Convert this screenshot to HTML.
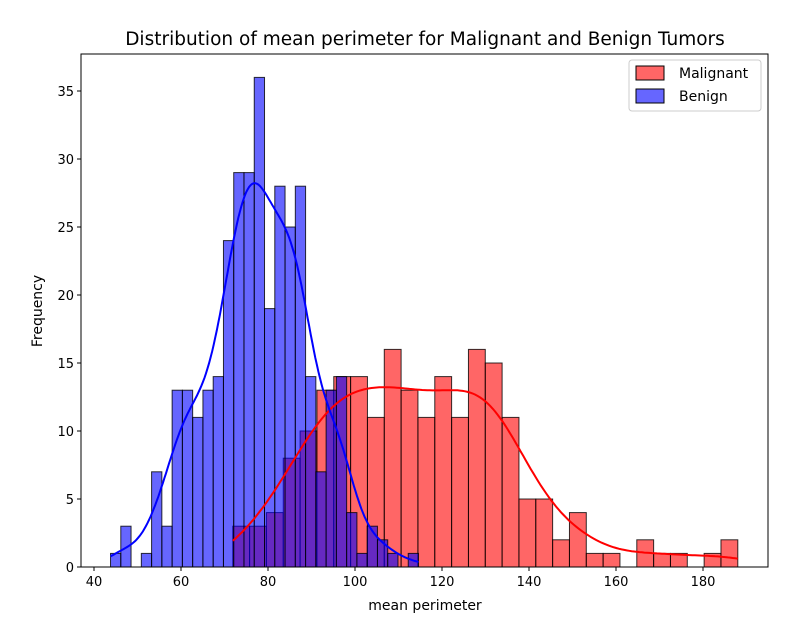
<!DOCTYPE html>
<html><head><meta charset="utf-8"><style>
body{margin:0;background:#fff;font-family:"DejaVu Sans",sans-serif}
</style></head><body>
<svg id="chart" width="808" height="630" xmlns="http://www.w3.org/2000/svg" font-family="DejaVu Sans, sans-serif">
<text x="425" y="45" text-anchor="middle" font-size="18.5">Distribution of mean perimeter for Malignant and Benign Tumors</text>
<g id="bars"></g>
<g id="curves"></g>
<g id="axes"></g>
<text x="425" y="610" text-anchor="middle" font-size="14">mean perimeter</text>
<text transform="translate(42,311) rotate(-90)" text-anchor="middle" font-size="14">Frequency</text>
<g>
<rect x="629" y="60" width="132" height="51" fill="#fff" stroke="#ccc" rx="3"/>
<rect x="636" y="66" width="28" height="14" fill="rgb(255,102,102)" stroke="#000"/>
<text x="679" y="78" font-size="14">Malignant</text>
<rect x="636" y="89" width="28" height="14" fill="rgb(102,102,255)" stroke="#000"/>
<text x="679" y="101" font-size="14">Benign</text>
</g>
</svg>
<script>
const malStart = 71.9, malWidth = 3.87;
const malCounts = [3,3,4,8,10,13,14,14,11,16,13,11,14,11,16,15,11,5,5,2,4,1,1,0,2,1,1,0,1,2];
const benStart = 43.8, benWidth = 2.36;
const benCounts = [1,3,0,1,7,3,13,13,11,13,14,24,29,29,36,19,28,25,28,14,7,13,14,4,1,3,2,1,0,1];
const xTicks = [40,60,80,100,120,140,160,180];
const yTicks = [0,5,10,15,20,25,30,35];

const NS="http://www.w3.org/2000/svg";
const X0=81,X1=768,Y0=54,Y1=567;
function sx(v){return 94+(v-40)*(609/140);}
function sy(v){return 567-v*13.6;}
function mk(t,a,p){const e=document.createElementNS(NS,t);for(const k in a)e.setAttribute(k,a[k]);p.appendChild(e);return e;}
const bars=document.getElementById('bars'),curves=document.getElementById('curves'),axes=document.getElementById('axes');

function drawHist(start,w,counts,fill,name){
  counts.forEach((c,i)=>{
    if(c<=0)return;
    const x=sx(start+i*w),x2=sx(start+(i+1)*w);
    const r=mk('rect',{x:x,y:sy(c),width:x2-x,height:sy(0)-sy(c),fill:fill,'fill-opacity':0.6,stroke:'#000','stroke-opacity':0.8,'stroke-width':1},bars);
    
    
  });
}
drawHist(malStart,malWidth,malCounts,'rgb(255,0,0)','malignant');
drawHist(benStart,benWidth,benCounts,'rgb(0,0,255)','benign');

function kde(start,w,counts,color,name,bwAdj){
  let n=0,m=0;counts.forEach((c,i)=>{n+=c;m+=c*(start+(i+.5)*w);});m/=n;
  let v=0;counts.forEach((c,i)=>{const d=start+(i+.5)*w-m;v+=c*d*d;});v/=(n-1);
  const bw=Math.sqrt(v)*Math.pow(n,-0.2)*bwAdj;
  const lo=start,hi=start+counts.length*w;let d='';
  for(let k=0;k<=200;k++){
    const x=lo+(hi-lo)*k/200;let s=0;
    counts.forEach((c,i)=>{const z=(x-(start+(i+.5)*w))/bw;s+=c*Math.exp(-z*z/2);});
    const y=s/(bw*Math.sqrt(2*Math.PI))*w;
    d+=(k?'L':'M')+sx(x).toFixed(1)+','+sy(y).toFixed(1);
  }
  const p=mk('path',{d:d,fill:'none',stroke:color,'stroke-width':2},curves);
  
  
}
kde(malStart,malWidth,malCounts,'#f00','malignant',1);
kde(benStart,benWidth,benCounts,'#00f','benign',1);

const fr=mk('rect',{x:X0,y:Y0,width:X1-X0,height:Y1-Y0,fill:'none',stroke:'#000','stroke-width':1},axes);


xTicks.forEach(t=>{
  const x=sx(t);
  mk('line',{x1:x,x2:x,y1:Y1,y2:Y1+4,stroke:'#000'},axes);
  const tx=mk('text',{x:x,y:Y1+19,'text-anchor':'middle','font-size':13},axes);tx.textContent=t;
  
  
});
yTicks.forEach(t=>{
  const y=sy(t);
  mk('line',{x1:X0-4,x2:X0,y1:y,y2:y,stroke:'#000'},axes);
  const tx=mk('text',{x:X0-7,y:y+5,'text-anchor':'end','font-size':13},axes);tx.textContent=t;
  
  
});
</script>
</body></html>
